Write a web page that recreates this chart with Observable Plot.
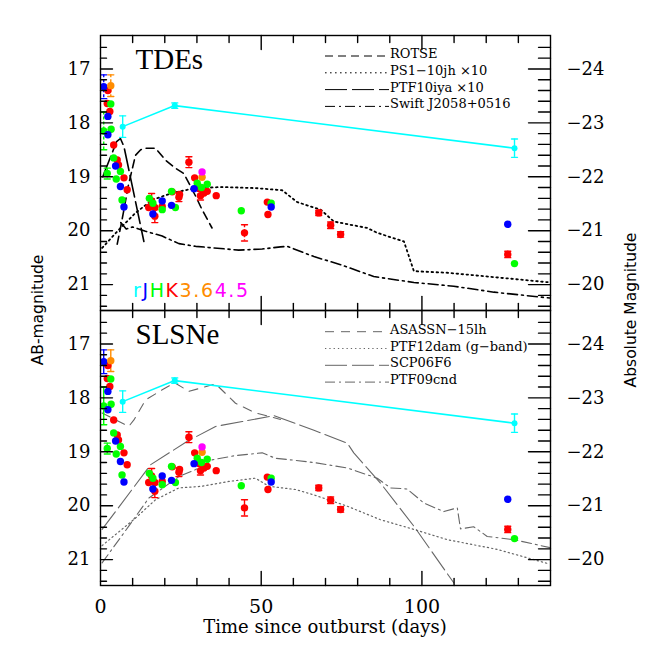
<!DOCTYPE html>
<html><head><meta charset="utf-8">
<script src="https://cdn.jsdelivr.net/npm/d3@7"></script>
<script src="https://cdn.jsdelivr.net/npm/@observablehq/plot@0.6"></script>
<style>
html,body{margin:0;padding:0;background:#fff;}
#fig{position:relative;width:654px;height:654px;overflow:hidden;background:#fff;}
#fig svg{position:absolute;left:0;}
</style></head><body><div id="fig"></div>
<script>
// ---------- axis ticks / labels ----------
const xTicksMajor = [50, 100];
const xLabelTicks = [0, 50, 100];
const xTickLabels = ["0", "50", "100"];
const xTicksMinor = [10, 20, 30, 40, 60, 70, 80, 90, 110, 120, 130];
const yTicksMajor = [17, 18, 19, 20, 21];
const yTickLabels = ["17", "18", "19", "20", "21"];
const absTickLabels = ["−24", "−23", "−22", "−21", "−20"];

// ---------- bands ----------
const bandNames = ["r", "J", "H", "K", "3.6", "4.5"];
const bandColors = ["#00ffff", "#0000ff", "#00ff00", "#ff0000", "#ff8c00", "#ff00ff"];

// [day, AB mag, error]
const rBand = [[6.9, 18.07, 0.2], [23.1, 17.68, 0.05], [128.8, 18.47, 0.17]];
const jBand = [[1.0, 17.33, 0.22], [2.3, 17.88, 0], [2.3, 18.22, 0], [4.7, 18.80, 0], [6.2, 19.18, 0], [7.3, 19.56, 0],
  [16.3, 19.69, 0], [19.2, 19.45, 0], [22.1, 19.53, 0], [29.1, 19.22, 0], [53.1, 19.56, 0], [126.7, 19.88, 0]];
const hBand = [[1.0, 18.15, 0.35], [2.1, 18.94, 0.1], [3.2, 17.65, 0], [3.3, 18.12, 0], [4.1, 18.65, 0], [4.9, 19.04, 0],
  [6.2, 18.90, 0], [6.7, 19.43, 0], [15.2, 19.40, 0], [16.3, 19.49, 0], [19.2, 19.61, 0], [22.1, 19.27, 0],
  [23.3, 19.57, 0], [30.1, 19.12, 0], [31.4, 19.20, 0], [33.2, 19.14, 0], [43.8, 19.63, 0], [53.1, 19.49, 0], [128.8, 20.61, 0]];
const kBand = [[2.3, 17.40, 0], [2.1, 17.64, 0], [2.9, 17.79, 0], [4.1, 18.41, 0], [5.2, 18.69, 0], [5.6, 18.78, 0],
  [7.3, 19.02, 0], [8.3, 19.24, 0], [15.0, 19.57, 0], [15.9, 19.45, 0.14], [16.9, 19.57, 0], [16.9, 19.73, 0.12],
  [19.2, 19.55, 0], [22.3, 19.28, 0], [24.4, 19.38, 0.08], [24.6, 19.33, 0], [27.5, 18.73, 0.1], [29.3, 19.02, 0],
  [30.6, 19.20, 0], [31.1, 19.35, 0.08], [32.2, 19.30, 0], [33.2, 19.27, 0], [36.0, 19.35, 0], [44.8, 20.04, 0.15],
  [51.9, 19.47, 0], [52.1, 19.70, 0], [67.9, 19.67, 0.05], [71.6, 19.90, 0.06], [74.7, 20.07, 0.05], [126.7, 20.44, 0.06]];
const ch1Band = [[3.2, 17.31, 0.2], [31.6, 19.01, 0]];
const ch2Band = [[31.6, 18.91, 0]];

// ---------- comparison light curves: [day, AB mag] ----------
const rotse = [[5.2, 20.25], [6.7, 19.8], [8.7, 19.15], [10.9, 18.6], [12.5, 18.5], [14.0, 18.47], [17.1, 18.47],
  [20.2, 18.69], [23.3, 18.84], [25.9, 18.94], [27.0, 19.06], [29.6, 19.36], [31.6, 19.61], [34.7, 19.95]];
const ps1_10jh = [[0.5, 20.32], [6.2, 19.95], [10.9, 19.67], [16.1, 19.43], [22.3, 19.30], [29.6, 19.21], [37.9, 19.19],
  [48.2, 19.21], [56.5, 19.25], [61.2, 19.47], [68.5, 19.61], [72.6, 19.83], [83.0, 19.95], [86.1, 20.04],
  [94.4, 20.2], [97.5, 20.75], [107.9, 20.78], [140, 20.96]];
const ptf10iya = [[0.7, 19.0], [5.0, 18.35], [6.2, 18.29], [7.3, 18.44], [13.5, 20.2]];
const swiftJ2058 = [[6.3, 19.85], [8.0, 19.97], [10.0, 19.93], [14.0, 20.01], [19.2, 20.10], [24.4, 20.24], [29.6, 20.29],
  [43.0, 20.36], [50.3, 20.34], [56.0, 20.30], [58.1, 20.29], [66.4, 20.48], [74.7, 20.63], [85.0, 20.85],
  [97.5, 20.96], [109.9, 21.03], [122.4, 21.14], [140, 21.25]];

const asassn15lh = [[0.5, 18.28], [8.8, 18.53], [10.4, 18.41], [14.0, 18.04], [19.2, 17.85], [23.1, 17.72], [27.5, 17.88],
  [35.8, 17.74], [42.0, 18.10], [48.2, 18.28], [56.0, 18.40]];
const ptf12dam = [[0.5, 20.74], [10.9, 20.23], [17.1, 19.89], [24.4, 19.67], [31.6, 19.64], [39.9, 19.55], [48.2, 19.49],
  [52.4, 19.64], [60.7, 19.70], [66.4, 19.80], [76.8, 20.01], [87.1, 20.26], [97.5, 20.44], [107.9, 20.63],
  [123.4, 20.81], [139, 21.07]];
const scp06f6 = [[0.5, 20.44], [15.6, 19.24], [26.9, 18.81], [35.8, 18.53], [44.1, 18.44], [54.0, 18.33], [66.4, 18.6],
  [76.8, 18.84], [78.8, 19.02], [87.1, 19.58], [97.5, 20.38], [109.9, 21.43]];
const ptf09cnd = [[0.5, 21.06], [8.8, 20.38], [15.0, 19.86], [24.4, 19.46], [29.6, 19.33], [34.7, 19.15], [42.0, 19.07],
  [50.3, 19.02], [54.4, 19.12], [60.7, 19.16], [66.4, 19.20], [76.8, 19.30], [86.1, 19.49], [90.2, 19.67],
  [95.4, 19.69], [100.6, 19.95], [106.8, 20.11], [111.0, 20.04], [112.0, 20.43], [116.1, 20.39], [120.3, 20.57],
  [128.6, 20.63], [140, 20.78]];

const tdeNames = ["ROTSE", "PS1−10jh ×10", "PTF10iya ×10", "Swift J2058+0516"];
const slsnNames = ["ASASSN−15lh", "PTF12dam (g−band)", "SCP06F6", "PTF09cnd"];

// ---------- build ----------
const xDomain = [0, 140];
const yDomain = [16.38, 21.48];
const yMinor = d3.range(83, 108).map(i => i / 5).filter(v => Math.abs(v - Math.round(v)) > 1e-6 && v > yDomain[0] + 0.05 && v < yDomain[1] - 0.05);

const toPts = (arr, band) => arr.map(([day, mag, err]) => ({day, mag, err, color: bandColors[bandNames.indexOf(band)]}));
const points = [...toPts(kBand, "K"), ...toPts(hBand, "H"), ...toPts(jBand, "J"), ...toPts(ch1Band, "3.6"), ...toPts(ch2Band, "4.5")];
const rPts = toPts(rBand, "r");

const tickShape = {draw(ctx, l) { ctx.moveTo(0, 0); ctx.lineTo(0, -l); }};
const capShape = {draw(ctx, l) { ctx.moveTo(-l / 2, 0); ctx.lineTo(l / 2, 0); }};

const DASH = {dashed: "8,5", dotted: "1.6,3.4", long: "22,5", dashdot: "10,4,2,4"};

function tk(data, anchor, rotate, length, ch) {
  return Plot.vector(data, {[ch]: d => d, frameAnchor: anchor, rotate, length, shape: tickShape, anchor: "start", stroke: "black", strokeWidth: 1.4});
}

function errMarks(pts, dash) {
  const e = pts.filter(d => d.err > 0);
  return [
    Plot.ruleX(e, {x: "day", y1: d => d.mag - d.err, y2: d => d.mag + d.err, stroke: d => d.color, strokeWidth: 1.4, strokeDasharray: dash}),
    Plot.vector(e, {x: "day", y: d => d.mag - d.err, length: 6, shape: capShape, anchor: "start", stroke: d => d.color, strokeWidth: 1.4}),
    Plot.vector(e, {x: "day", y: d => d.mag + d.err, length: 6, shape: capShape, anchor: "start", stroke: d => d.color, strokeWidth: 1.4})
  ];
}

function panel({height, marginTop, marginBottom, curves, title, errDash, xAxis}) {
  const marks = [];
  for (const c of curves) {
    marks.push(Plot.line(c.data, {x: d => d[0], y: d => d[1], stroke: c.color, strokeWidth: c.width, strokeDasharray: c.dash, clip: true}));
  }
  marks.push(...errMarks(points, errDash));
  marks.push(Plot.dot(points, {x: "day", y: "mag", r: 3.7, fill: d => d.color, stroke: null}));
  marks.push(Plot.line(rPts, {x: "day", y: "mag", stroke: bandColors[0], strokeWidth: 1.6}));
  marks.push(...errMarks(rPts, null));
  marks.push(Plot.dot(rPts, {x: "day", y: "mag", r: 3, fill: bandColors[0], stroke: null}));
  marks.push(Plot.frame({stroke: "black", strokeWidth: 1.4}));
  marks.push(
    tk(yMinor, "left", 90, 6, "y"), tk(yTicksMajor, "left", 90, 12, "y"),
    tk(yMinor, "right", -90, 12, "y"), tk(yTicksMajor, "right", -90, 22, "y"),
    tk(xTicksMinor, "top", 180, 7, "x"), tk(xTicksMajor, "top", 180, 14, "x"),
    tk(xTicksMinor, "bottom", 0, 7, "x"), tk(xTicksMajor, "bottom", 0, 14, "x")
  );
  marks.push(Plot.axisY(yTicksMajor, {anchor: "left", tickSize: 0, tickPadding: 10, fontSize: 18, label: null,
    tickFormat: d => yTickLabels[yTicksMajor.indexOf(d)]}));
  marks.push(Plot.axisY(yTicksMajor, {anchor: "right", tickSize: 0, tickPadding: 16, fontSize: 18, label: null,
    tickFormat: d => absTickLabels[yTicksMajor.indexOf(d)]}));
  if (xAxis) {
    marks.push(Plot.axisX(xLabelTicks, {anchor: "bottom", tickSize: 0, tickPadding: 14, fontSize: 19, label: null,
      tickFormat: d => xTickLabels[xLabelTicks.indexOf(d)]}));
  }
  marks.push(Plot.text([title], {text: d => d, frameAnchor: "top-left", dx: 35, dy: 13, lineAnchor: "top", textAnchor: "start",
    fontSize: 29, fontFamily: "Liberation Serif"}));
  return Plot.plot({
    width: 654, height, marginLeft: 100, marginRight: 104, marginTop, marginBottom,
    x: {domain: xDomain, axis: xAxis ? undefined : null},
    y: {domain: yDomain, reverse: true},
    color: {type: "identity"},
    style: {fontFamily: "'DejaVu Serif', serif", background: "transparent", color: "black", overflow: "visible"},
    marks
  });
}

function addLegend(svg, names, dashes, color, y0) {
  const g = d3.select(svg).append("g").attr("text-anchor", "start");
  names.forEach((n, i) => {
    const y = y0 + i * 16.8;
    g.append("line").attr("x1", 325).attr("x2", 389).attr("y1", y).attr("y2", y)
      .attr("stroke", color).attr("stroke-width", 1).attr("stroke-dasharray", dashes[i]);
    g.append("text").attr("x", 390).attr("y", y + 2).attr("text-anchor", "start").attr("font-family", "'DejaVu Serif', serif")
      .attr("font-size", 13).attr("fill", "black").text(n);
  });
}

const fig = document.getElementById("fig");

const topSvg = panel({
  height: 310, marginTop: 35, marginBottom: 0, title: "TDEs", errDash: "3,2", xAxis: false,
  curves: [
    {data: rotse, color: "black", width: 1.6, dash: DASH.dashed},
    {data: ps1_10jh, color: "black", width: 1.8, dash: DASH.dotted},
    {data: ptf10iya, color: "black", width: 1.6, dash: DASH.long},
    {data: swiftJ2058, color: "black", width: 1.6, dash: DASH.dashdot}
  ]
});
topSvg.style.top = "0px";
fig.appendChild(topSvg);
addLegend(topSvg, tdeNames, [DASH.dashed, DASH.dotted, DASH.long, DASH.dashdot], "black", 56);
// band colour key
const bandKey = d3.select(topSvg).append("text").attr("x", 133).attr("y", 297).attr("text-anchor", "start")
  .attr("font-family", "'DejaVu Sans', sans-serif").attr("font-size", 19)
  .style("letter-spacing", "1.6px");
bandNames.forEach((b, i) => bandKey.append("tspan").attr("fill", bandColors[i]).style("letter-spacing", "1.6px").text(b));

const bottomSvg = panel({
  height: 344, marginTop: 0, marginBottom: 69, title: "SLSNe", errDash: null, xAxis: true,
  curves: [
    {data: asassn15lh, color: "#666", width: 1.1, dash: "9,7"},
    {data: ptf12dam, color: "#666", width: 1.2, dash: "1.3,3"},
    {data: scp06f6, color: "#666", width: 1.1, dash: DASH.long},
    {data: ptf09cnd, color: "#666", width: 1.1, dash: DASH.dashdot}
  ]
});
bottomSvg.style.top = "310px";
fig.appendChild(bottomSvg);
addLegend(bottomSvg, slsnNames, ["9,7", "1.3,3", DASH.long, DASH.dashdot], "#666", 21.7);

// axis titles overlay
const ov = d3.select(fig).append("svg").attr("width", 654).attr("height", 654)
  .style("top", "0px").style("pointer-events", "none");
ov.append("text").attr("transform", "translate(43,310) rotate(-90)").attr("text-anchor", "middle")
  .attr("font-family", "'DejaVu Sans', sans-serif").attr("font-size", 15.5).text("AB-magnitude");
ov.append("text").attr("transform", "translate(636,310) rotate(-90)").attr("text-anchor", "middle")
  .attr("font-family", "'DejaVu Sans', sans-serif").attr("font-size", 15.5).text("Absolute Magnitude");
ov.append("text").attr("x", 325).attr("y", 633).attr("text-anchor", "middle")
  .attr("font-family", "'DejaVu Serif', serif").attr("font-size", 18).text("Time since outburst (days)");
</script>
</body></html>
